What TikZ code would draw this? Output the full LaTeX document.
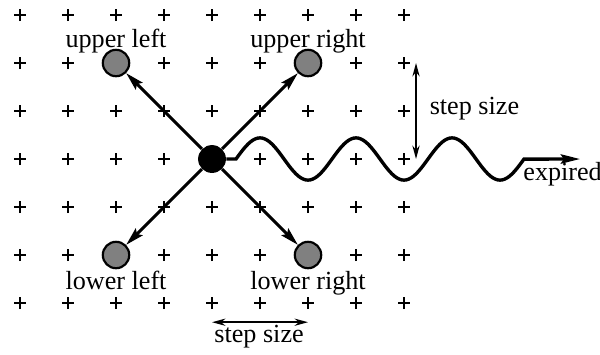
\documentclass[tikz,border=0pt]{standalone}
\usepackage{fontspec}
\setmainfont{Liberation Serif}
\usetikzlibrary{arrows.meta, positioning}
\definecolor{walkink}{HTML}{000000}
\definecolor{movegray}{HTML}{808080}
\tikzset{
  gridmark/.style={draw=walkink, line width=1.7pt},
  target/.style={circle, draw=walkink, fill=movegray, line width=1.3pt, minimum size=0.55cm, inner sep=0pt},
  walker/.style={circle, fill=walkink, minimum size=0.58cm, inner sep=0pt},
  lbl/.style={font=\fontsize{15.5}{18}\selectfont, text=walkink, inner sep=0pt, anchor=base},
  move/.style={-{Stealth[length=3.8mm, width=2mm, inset=0.6mm]}, draw=walkink, line width=1.7pt},
  measure/.style={{Stealth[length=2.8mm, width=1.5mm]}-{Stealth[length=2.8mm, width=1.5mm]}, draw=walkink, line width=1.1pt},
  wave/.style={-{Stealth[length=4mm, width=1.9mm, inset=0.6mm]}, draw=walkink, line width=2pt}
}

\begin{document}
\begin{tikzpicture}
\useasboundingbox (-4.417,-4.0625) rectangle (8.083,3.3125);
% grid of lattice points
\foreach \gx in {-4,...,4}
  \foreach \gy in {-3,...,3} {
    \pgfmathtruncatemacro\skipit{(\gx==0 && \gy==0) || (abs(\gx)==2 && abs(\gy)==2)}
    \ifnum\skipit=0
      \draw[gridmark] (\gx,\gy) +(-0.125,0) -- +(0.125,0) +(0,-0.125) -- +(0,0.125);
    \fi
  }
% walker and its four moves
\node[walker] (c) at (0,0) {};
\node[target] (ul) at (-2,2) {};
\node[target] (ur) at (2,2) {};
\node[target] (ll) at (-2,-2) {};
\node[target] (lr) at (2,-2) {};
\node[lbl] (ultxt) at (-2,2.333) {upper left};
\node[lbl] (urtxt) at (2,2.333) {upper right};
\node[lbl] (lltxt) at (-2,-2.71) {lower left};
\node[lbl] (lrtxt) at (2,-2.72) {lower right};
\draw[move] (c) -- (ul);
\draw[move] (c) -- (ur);
\draw[move] (c) -- (ll);
\draw[move] (c) -- (lr);
% wandering path
\coordinate (wstart) at (0.5,0);
\coordinate (wend) at (6.5,0);
\coordinate (gone) at (7.67,0);
\draw[wave] (c.east) -- (wstart) -- plot[domain=0.5:6.5, samples=121, smooth] (\x, {0.44*sin(180*(\x-0.5))}) -- (gone);
\node[lbl, anchor=base west] (exptxt) at (6.48,-0.44) {expired};
% step sizes
\coordinate (vtop) at (4.25,2);
\coordinate (vbot) at (4.25,0);
\draw[measure] (vtop) -- (vbot);
\node[lbl, anchor=base west] (vstep) at (4.53,0.917) {step size};
\coordinate (hleft) at (0,-3.4);
\coordinate (hright) at (2,-3.4);
\draw[measure] (hleft) -- (hright);
\node[lbl] (hstep) at (0.98,-3.83) {step size};
\end{tikzpicture}
\end{document}
